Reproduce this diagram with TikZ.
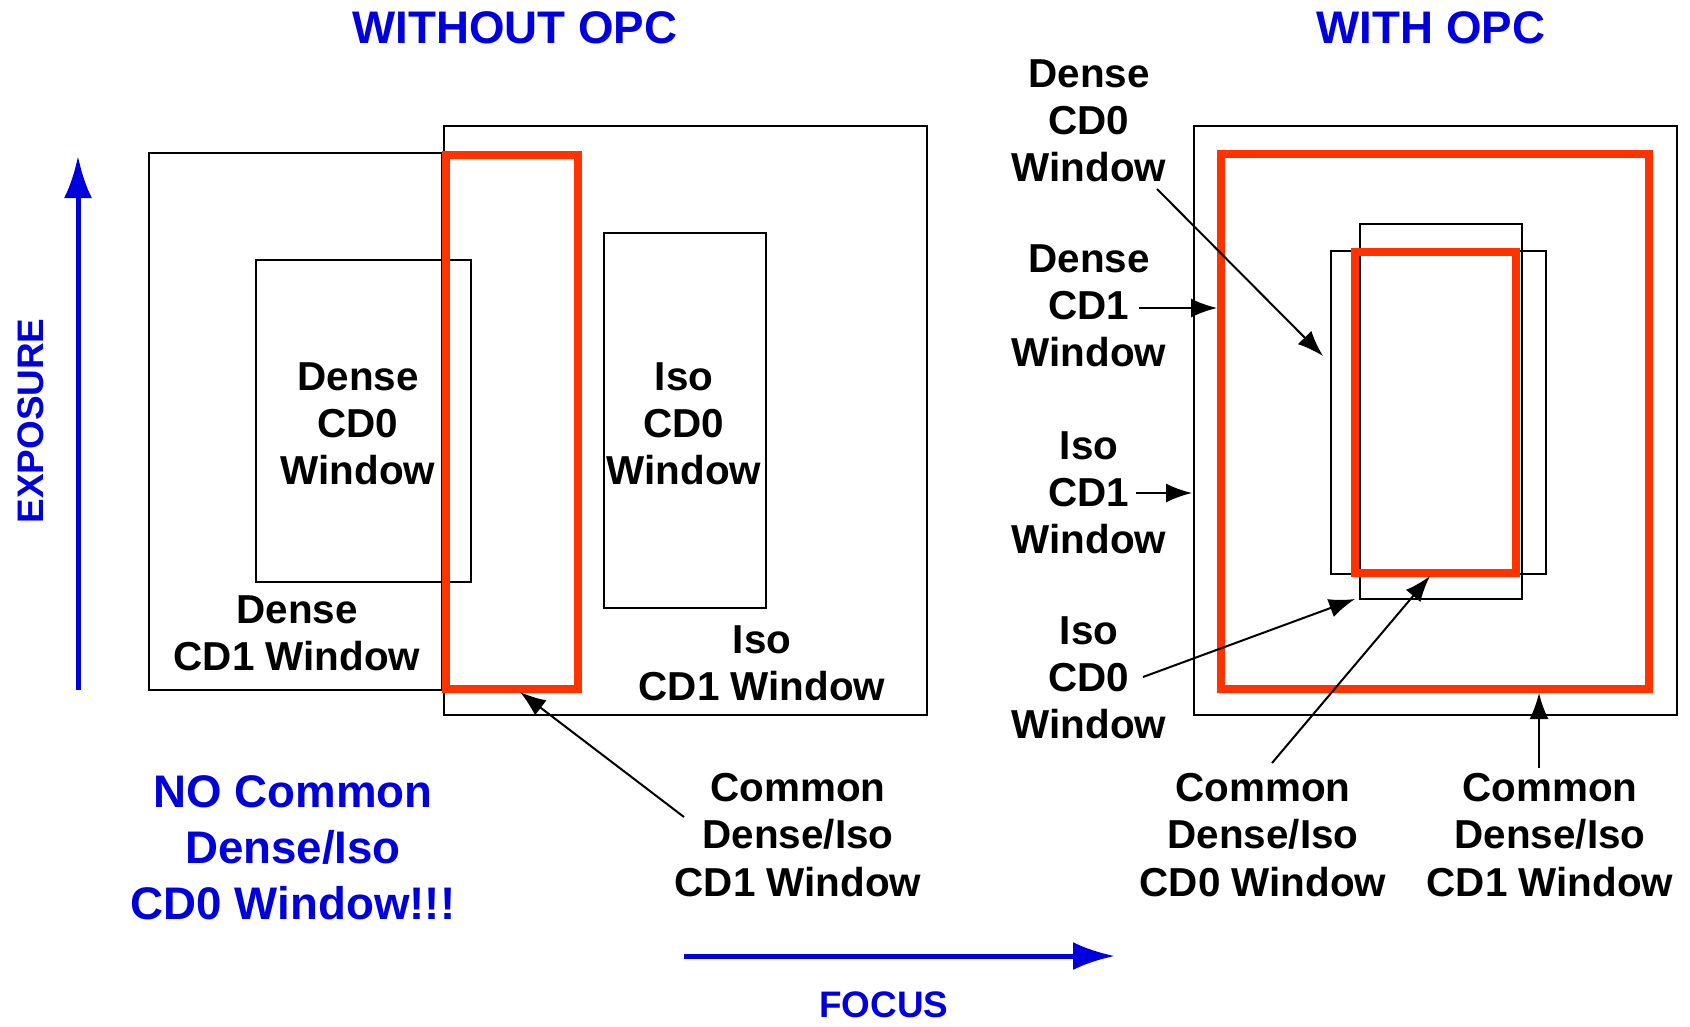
\documentclass[tikz,border=0pt]{standalone}
\usepackage{fontspec}
\setmainfont{Liberation Sans}
\usetikzlibrary{arrows.meta}
\definecolor{opcred}{RGB}{255,51,0}
\definecolor{opcblue}{RGB}{0,0,221}
\begin{document}
\begin{tikzpicture}[x=0.1mm,y=-0.1mm,
  winbox/.style={draw=black,line width=0.27mm},
  redbox/.style={draw=opcred,line width=0.8mm},
  lbl/.style={font=\bfseries\fontsize{11.5}{13.4}\selectfont,align=center,inner sep=0pt},
  bluelbl/.style={text=opcblue,font=\bfseries\fontsize{13}{15.9}\selectfont,align=center,inner sep=0pt},
  axislbl/.style={text=opcblue,font=\bfseries\fontsize{10.5}{12}\selectfont,inner sep=0pt},
  axisarrow/.style={draw=opcblue,line width=0.5mm,-{Latex[length=4.2mm,width=2.8mm]}},
  conn/.style={draw=black,line width=0.2mm,-{Latex[length=2.6mm,width=1.9mm]}}
]
\useasboundingbox (0,0) rectangle (1690,1026);

% titles
\node[bluelbl] (t1) at (515,28) {WITHOUT OPC};
\node[bluelbl] (t2) at (1431,28) {WITH OPC};

% axes
\coordinate (ex0) at (78,690);
\coordinate (ex1) at (78,156);
\draw[axisarrow] (ex0) -- (ex1);
\node[axislbl,rotate=90] (exl) at (31,421) {EXPOSURE};
\coordinate (fo0) at (684,956);
\coordinate (fo1) at (1115,956);
\draw[axisarrow] (fo0) -- (fo1);
\node[axislbl] (fol) at (884,1005) {FOCUS};

% ---------- left: without OPC ----------
\draw[winbox] (149,153) rectangle (442,690);
\draw[winbox] (444,126) rectangle (927,715);
\draw[winbox] (256,260) rectangle (471,582);
\draw[winbox] (604,233) rectangle (766,608);
\draw[redbox] (446,155) rectangle (578,689);

\node[lbl] (ldcd0) at (358,424) {Dense\\CD0\\Window};
\node[lbl] (licd0) at (684,424) {Iso\\CD0\\Window};
\node[lbl] (ldcd1) at (297,633) {Dense\\CD1 Window};
\node[lbl] (licd1) at (762,663) {Iso\\CD1 Window};
\node[lbl] (lcom) at (798,835) {Common\\Dense/Iso\\CD1 Window};
\node[bluelbl] (nocom) at (293,848) {NO Common\\Dense/Iso\\CD0 Window!!!};

\coordinate (lcomtail) at (684,817);
\coordinate (lcomtip) at (520,692);
\draw[conn] (lcomtail) -- (lcomtip);

% ---------- right: with OPC ----------
\draw[winbox] (1194,126) rectangle (1677,715);
\draw[winbox] (1360,224) rectangle (1522,599);
\draw[winbox] (1331,251) rectangle (1546,574);
\draw[redbox] (1221,154) rectangle (1649,689);
\draw[redbox] (1355,252) rectangle (1516,573);

\node[lbl] (rdcd0) at (1089,121) {Dense\\CD0\\Window};
\node[lbl] (rdcd1) at (1089,306) {Dense\\CD1\\Window};
\node[lbl] (ricd1) at (1089,493) {Iso\\CD1\\Window};
\node[lbl] (ricd0) at (1089,678) {Iso\\CD0\\Window};
\node[lbl] (rcom0) at (1263,835) {Common\\Dense/Iso\\CD0 Window};
\node[lbl] (rcom1) at (1550,835) {Common\\Dense/Iso\\CD1 Window};

\coordinate (a1s) at (1157,189);  \coordinate (a1e) at (1323,356);
\coordinate (a2s) at (1139,308);  \coordinate (a2e) at (1217,308);
\coordinate (a3s) at (1136,493);  \coordinate (a3e) at (1192,493);
\coordinate (a4s) at (1143,677);  \coordinate (a4e) at (1355,599);
\coordinate (a5s) at (1272,763);  \coordinate (a5e) at (1430,576);
\coordinate (a6s) at (1539,768);  \coordinate (a6e) at (1539,693);
\draw[conn] (a1s) -- (a1e);
\draw[conn] (a2s) -- (a2e);
\draw[conn] (a3s) -- (a3e);
\draw[conn] (a4s) -- (a4e);
\draw[conn] (a5s) -- (a5e);
\draw[conn] (a6s) -- (a6e);
\end{tikzpicture}
\end{document}
